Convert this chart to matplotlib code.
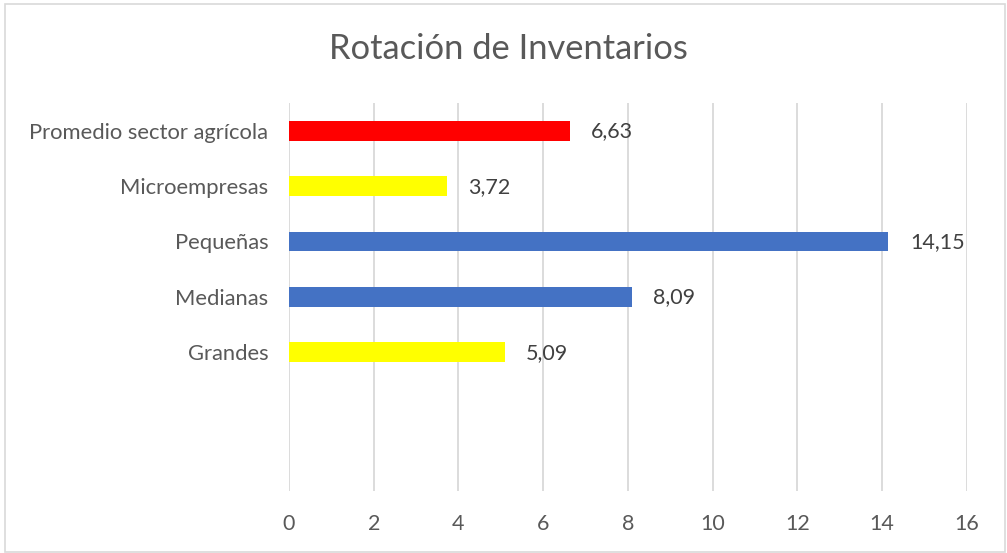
import numpy as np
import matplotlib
matplotlib.use("Agg")
import matplotlib.pyplot as plt
from matplotlib.patches import Rectangle

# data (top to bottom)
categories = ["Promedio sector agrícola", "Microempresas", "Pequeñas", "Medianas", "Grandes"]
values = [6.63, 3.72, 14.15, 8.09, 5.09]
labels = ["6,63", "3,72", "14,15", "8,09", "5,09"]
colors = ["#FF0000", "#FFFF00", "#4472C4", "#4472C4", "#FFFF00"]
x_ticks = [0, 2, 4, 6, 8, 10, 12, 14, 16]
n_slots = 7  # two empty category slots at the bottom

TEXT = "#595959"
GRID = "#D9D9D9"

plt.rcParams["font.family"] = ["Lato", "DejaVu Sans"]

fig = plt.figure(figsize=(10.07, 5.53), dpi=100)
ax = fig.add_axes([0.287, 0.1127, 0.673, 0.701])

ypos = np.arange(n_slots - 1, n_slots - 1 - len(categories), -1)
ax.barh(ypos, values, height=0.36, color=colors, zorder=3)

for y, v, lab in zip(ypos, values, labels):
    ax.annotate(lab, (v, y), xytext=(15.5, -0.5), textcoords="offset points",
                ha="left", va="center", fontsize=15.5, color="#404040")

ax.set_xlim(0, 16)
ax.set_ylim(-0.5, n_slots - 0.5)
ax.set_xticks(x_ticks)
ax.set_xticklabels([str(t) for t in x_ticks], fontsize=15.5, color=TEXT)
ax.set_yticks(ypos)
ax.set_yticklabels(categories, fontsize=15.8, color=TEXT)
ax.tick_params(axis="both", length=0)
ax.tick_params(axis="y", pad=15)
ax.tick_params(axis="x", pad=17)
ax.grid(axis="x", color=GRID, linewidth=1.3, zorder=0)
for s in ax.spines.values():
    s.set_visible(False)

fig.text(0.505, 0.912, "Rotación de Inventarios", ha="center", va="center",
         fontsize=24.8, color=TEXT)

# chart border
fig.patches.append(Rectangle((0.005, 0.002), 0.993, 0.99, transform=fig.transFigure,
                             fill=False, edgecolor=GRID, linewidth=1.2))

fig.savefig("out.png", dpi=100)
